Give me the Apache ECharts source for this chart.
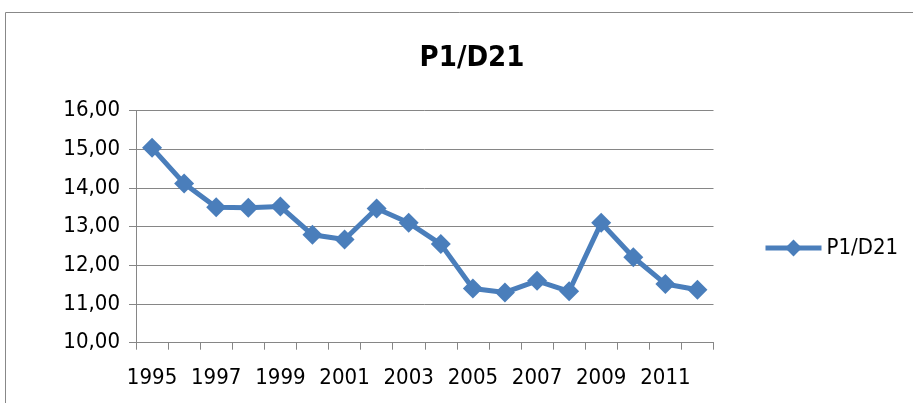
<!DOCTYPE html>
<html><head><meta charset="utf-8">
<script src="https://cdn.jsdelivr.net/npm/echarts@6/dist/echarts.min.js"></script>
<style>html,body{margin:0;padding:0;background:#fff}#c{width:913px;height:403px}</style>
</head><body><div id="c"></div>
<script>
const years = ['1995','1996','1997','1998','1999','2000','2001','2002','2003','2004','2005','2006','2007','2008','2009','2010','2011','2012'];
const values = [15.04,14.12,13.50,13.49,13.52,12.79,12.67,13.47,13.10,12.55,11.40,11.30,11.60,11.33,13.10,12.21,11.52,11.37];
const seriesName = 'P1/D21';
const FONT = '"DejaVu Sans Condensed","Open Sans",sans-serif';
const chart = echarts.init(document.getElementById('c'), null, {renderer:'canvas'});
chart.setOption({
  animation:false,
  backgroundColor:'#fff',
  title:{text:'P1/D21', left:467, textAlign:'center', top:39, textStyle:{fontFamily:FONT, fontSize:29, fontWeight:'bold', color:'#000'}},
  graphic:[{type:'rect', shape:{x:5.5,y:12.5,width:1000,height:500}, style:{fill:'none', stroke:'#888', lineWidth:1}, silent:true}],
  legend:{left:758, top:232, itemWidth:56, itemHeight:21, itemGap:6, lineStyle:{width:5}, textStyle:{fontFamily:FONT, fontSize:22, color:'#000'}, data:[seriesName]},
  grid:{left:136, right:199.5, top:110.7, bottom:60.3},
  xAxis:{type:'category', data:years, boundaryGap:true,
    axisLine:{lineStyle:{color:'#868686', width:1}},
    axisTick:{show:true, interval:0, length:7, lineStyle:{color:'#868686'}},
    axisLabel:{interval:1, color:'#000', fontFamily:FONT, fontSize:22, margin:25}},
  yAxis:{type:'value', min:10, max:16, interval:1,
    axisLine:{show:true, lineStyle:{color:'#868686', width:1}},
    axisTick:{show:true, length:7, lineStyle:{color:'#868686'}},
    splitLine:{lineStyle:{color:'#868686', width:1}},
    axisLabel:{color:'#000', fontFamily:FONT, fontSize:22, margin:16, formatter:v=>v.toFixed(2).replace('.',',')}},
  series:[{name:seriesName, type:'line', data:values, symbol:'diamond', symbolSize:20,
    lineStyle:{color:'#4a7ebb', width:5}, itemStyle:{color:'#4a7ebb'}}]
});
</script></body></html>
